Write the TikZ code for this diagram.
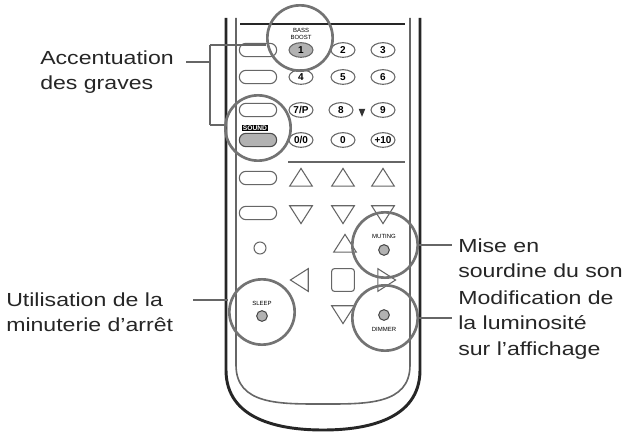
\documentclass[tikz,border=0pt]{standalone}
\usepackage{fontspec}
\setmainfont{Liberation Sans}
\newfontfamily\widefont[FakeStretch=1.22]{Liberation Sans}
\usetikzlibrary{shapes.geometric}
\begin{document}
\begin{tikzpicture}[x=0.75pt,y=-0.75pt,
  lbl/.style={font=\widefont\fontsize{14.2}{19}\selectfont,align=left,anchor=west,inner sep=0,text=black!85},
  body/.style={line width=2.2pt,black!85},
  thin/.style={line width=0.8pt,black!60},
  obtn/.style={draw=black!60,line width=0.8pt,rounded corners=5pt,minimum width=28pt,minimum height=10pt,inner sep=0},
  nbtn/.style={draw=black!60,line width=0.8pt,ellipse,minimum width=18pt,minimum height=11pt,inner sep=0,font=\bfseries\fontsize{7.5}{8}\selectfont},
  gbtn/.style={draw=black!70,fill=black!30,line width=0.8pt,circle,minimum size=8pt,inner sep=0},
  tri/.style={draw=black!60,line width=0.8pt,isosceles triangle,isosceles triangle apex angle=65,minimum height=12pt,minimum width=17pt,inner sep=0},
  ring/.style={draw=black!55,line width=2pt,circle,minimum size=49pt,inner sep=0},
  tiny/.style={font=\fontsize{4.5}{5}\selectfont,inner sep=0},
  conn/.style={line width=1.6pt,black!60}]
\useasboundingbox (0,0) rectangle (642,434);
\fill[white] (0,0) rectangle (642,434);
% body
\draw[body] (226,18) -- (226,370) .. controls (226,420) and (280,430) .. (323,430) .. controls (366,430) and (420,420) .. (420,370) -- (420,18);
\draw[thin,line width=1.2pt] (236,18) -- (236,365) .. controls (236,405) and (280,404) .. (323,404) .. controls (366,404) and (410,405) .. (410,365) -- (410,18);
\draw[body,line width=1.6pt] (240,24) -- (405,24);
\draw[thin] (288,162) -- (405,162);
% left column ovals
\foreach \y/\n in {50/o1,77/o2,110/o3,178/o5,213/o6} \node[obtn] (\n) at (258,\y) {};
\node[obtn,fill=black!30,draw=black!70] (sound) at (258,140) {};
\node[fill=black,text=white,font=\bfseries\fontsize{5}{5}\selectfont,inner sep=0.5pt] (soundl) at (255,128) {SOUND};
% number buttons
\node[nbtn,fill=black!30] (b1) at (301,50) {1};
\node[tiny,align=center] (bassl) at (301,34) {BASS\\BOOST};
\node[nbtn] (b2) at (343,50) {2};
\node[nbtn] (b3) at (383,50) {3};
\node[nbtn] (b4) at (301,77) {4};
\node[nbtn] (b5) at (343,77) {5};
\node[nbtn] (b6) at (383,77) {6};
\node[nbtn] (b7) at (301,110) {7/P};
\node[nbtn] (b8) at (341,110) {8};
\node[fill=black!80,isosceles triangle,rotate=-90,minimum height=4pt,minimum width=5pt,inner sep=0] (arr) at (362,111) {};
\node[nbtn] (b9) at (383,110) {9};
\node[nbtn] (b00) at (301,140) {0/0};
\node[nbtn] (b0) at (343,140) {0};
\node[nbtn] (b10) at (383,140) {+10};
% triangles
\foreach \x/\n in {301/u1,343/u2,383/u3} \node[tri,rotate=90] (\n) at (\x,180) {};
\foreach \x/\n in {301/d1,343/d2,383/d3} \node[tri,rotate=-90] (\n) at (\x,212) {};
\node[draw=black!60,line width=0.8pt,circle,minimum size=9pt,inner sep=0] (sc) at (260,248) {};
\node[tri,rotate=90] (u4) at (345,246) {};
\node[tri,rotate=180] (l1) at (302,280) {};
\node[draw=black!60,line width=0.8pt,rounded corners=2pt,minimum size=17pt,inner sep=0] (sq) at (343,280) {};
\node[tri,rotate=0] (r1) at (384,280) {};
\node[tri,rotate=-90] (d4) at (343,312) {};
% special buttons
\node[gbtn] (mute) at (384,250) {};
\node[tiny] (mutel) at (384,236) {MUTING};
\node[gbtn] (sleep) at (262,316) {};
\node[tiny] (sleepl) at (262,303) {SLEEP};
\node[gbtn] (dim) at (384,315) {};
\node[tiny] (diml) at (384,329) {DIMMER};
% rings
\node[ring] (r1c) at (300,38) {};
\node[ring] (rs) at (258,128) {};
\node[ring] (rm) at (385,245) {};
\node[ring] (rsl) at (262,312) {};
\node[ring] (rd) at (385,318) {};
% labels
\node[lbl] (t1) at (40,72) {Accentuation\\des graves};
\node[lbl] (t2) at (458,258) {Mise en\\sourdine du son};
\node[lbl] (t3) at (6,312) {Utilisation de la\\minuterie d’arrêt};
\node[lbl] (t4) at (458,325) {Modification de\\la luminosité\\sur l’affichage};
% connectors
\coordinate (j) at (210,62);
\draw[conn] (186,62) -- (j);
\draw[conn] (210,45) -- (210,125);
\draw[conn] (210,45) -- (r1c.west |- 0,45);
\draw[conn] (210,125) -- (rs.west |- 0,125);
\draw[conn] (rm.east) -- (452,245);
\draw[conn] (193,300) -- (rsl.west |- 0,300);
\draw[conn] (rd.east) -- (452,318);
\end{tikzpicture}
\end{document}
